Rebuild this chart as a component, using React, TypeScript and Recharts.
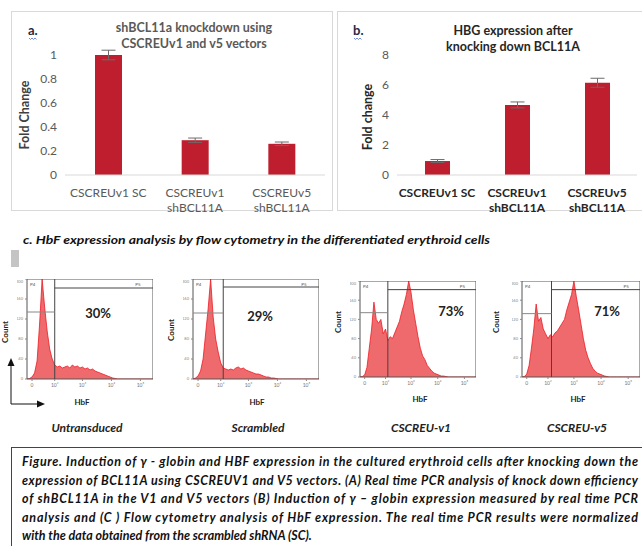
import React from 'react';
import {
  BarChart, Bar, XAxis, YAxis, ErrorBar, AreaChart, Area,
  ReferenceLine, ReferenceArea,
} from 'recharts';

// ---------- Panel a / b data ----------
const categories = ['CSCREUv1 SC', 'CSCREUv1\nshBCL11A', 'CSCREUv5\nshBCL11A'];
const knockdownValues = [1.0, 0.29, 0.26];
const knockdownErrors = [0.04, 0.018, 0.015];
const knockdownTicks = [0, 0.2, 0.4, 0.6, 0.8, 1];
const hbgValues = [0.93, 4.67, 6.15];
const hbgErrors = [0.1, 0.2, 0.3];
const hbgTicks = [0, 2, 4, 6, 8];

// ---------- Panel c (flow cytometry histograms), counts as % of frame, bins every 2 units ----------
const untransduced = [0, 0.5, 2, 6, 18, 55, 100, 72, 48, 30, 20, 14, 12, 13, 11, 12, 13, 11, 14, 12, 13, 11, 12, 10, 11, 9, 10, 8, 7, 6, 5, 4, 3, 2, 1, 0.5, 0, 0, 0, 0, 0, 0, 0, 0, 0, 0, 0, 0, 0, 0, 0];
const scrambled = [0, 1, 3, 8, 20, 45, 70, 100, 62, 40, 27, 16, 11, 10, 9, 10, 9, 11, 12, 10, 11, 9, 8, 7, 6, 5, 5, 4, 3, 2, 2, 1, 1, 0.5, 0, 0, 0, 0, 0, 0, 0, 0, 0, 0, 0, 0, 0, 0, 0, 0, 0];
const cscreuV1 = [0, 0.5, 2, 10, 30, 50, 78, 60, 56, 60, 45, 50, 38, 42, 40, 46, 52, 58, 68, 76, 86, 100, 88, 70, 56, 42, 30, 22, 18, 12, 9, 6, 4, 3, 2, 1, 1, 0.5, 0, 0, 0, 0, 0, 0, 0, 0, 0, 0, 0, 0, 0];
const cscreuV5 = [0, 0.5, 3, 12, 30, 50, 76, 58, 62, 50, 45, 40, 44, 42, 46, 48, 52, 56, 60, 70, 78, 86, 100, 84, 70, 55, 40, 28, 20, 14, 9, 6, 4, 3, 2, 1, 0.5, 0, 0, 0, 0, 0, 0, 0, 0, 0, 0, 0, 0, 0, 0];
const histXTicks = [4, 22, 44, 67, 90];
const histXTickLabels = ['0', '10²', '10³', '10⁴', '10⁵'];
const histYTicks = [0, 20, 40, 60, 80, 100];
const histYTickLabels = ['0', '40', '80', '120', '160', '200'];

const captionLines = [
  'Figure. Induction of γ - globin and HBF expression in the cultured erythroid cells after knocking down the',
  'expression of BCL11A using CSCREUV1 and V5 vectors. (A) Real time PCR analysis of knock down efficiency',
  'of shBCL11A in the V1 and V5 vectors (B) Induction of γ – globin expression measured by real time PCR',
  'analysis and (C ) Flow cytometry analysis of HbF expression. The real time PCR results were normalized',
  'with the data obtained from the scrambled shRNA (SC).',
];

const FONT = 'Lato, "Open Sans", sans-serif';
const BAR_RED = '#BE1E2D';

const knockdownData = categories.map((c, i) => ({ name: c, v: knockdownValues[i], e: knockdownErrors[i] }));
const hbgData = categories.map((c, i) => ({ name: c, v: hbgValues[i], e: hbgErrors[i] }));

const MultiTick = (props: any) => {
  const { x, y, payload, fill, weight } = props;
  const lines = String(payload.value).split('\n');
  return (
    <text x={x} y={y} textAnchor="middle" fill={fill} fontSize={12} fontWeight={weight} fontFamily={FONT}>
      {lines.map((l: string, i: number) => (
        <tspan key={i} x={x} dy={i === 0 ? 14 : 15}>{l}</tspan>
      ))}
    </text>
  );
};

type HistProps = {
  left: number; top: number; w: number; h: number; values: number[];
  gate: number; p4: number; p5: number;
};

const Histogram = ({ left, top, w, h, values, gate, p4, p5 }: HistProps) => {
  const data = values.map((v, i) => ({ x: i * 2, c: v }));
  return (
    <div style={{ position: 'absolute', left: left - 10, top }}>
      <AreaChart width={w + 10} height={h + 9} data={data} margin={{ top: 0, right: 0, bottom: 0, left: 0 }}>
        <XAxis type="number" dataKey="x" domain={[0, 100]} ticks={histXTicks} allowDataOverflow
          tickFormatter={(v: number) => histXTickLabels[histXTicks.indexOf(v)] ?? ''}
          height={9} tick={{ fontSize: 5, fill: '#777' }} tickLine={{ stroke: '#888' }} tickSize={2} axisLine={false} />
        <YAxis type="number" domain={[0, 100]} ticks={histYTicks} allowDataOverflow width={10}
          tickFormatter={(v: number) => histYTickLabels[histYTicks.indexOf(v)] ?? ''}
          tick={{ fontSize: 4, fill: '#888' }} tickLine={{ stroke: '#888' }} tickSize={2} axisLine={false} />
        <Area type="linear" dataKey="c" stroke="#EC1C24" strokeWidth={0.8} fill="#EE6A6C" fillOpacity={1}
          isAnimationActive={false} dot={false} activeDot={false} />
        <ReferenceArea x1={0} x2={100} y1={0} y2={100} fill="none" stroke="#555" strokeWidth={1} ifOverflow="visible" />
        <ReferenceLine x={gate} stroke="#444" strokeWidth={1} />
        <ReferenceLine segment={[{ x: 0, y: p4 }, { x: gate, y: p4 }]} stroke="#888" strokeWidth={1} />
        <ReferenceLine segment={[{ x: gate, y: p5 }, { x: 100, y: p5 }]} stroke="#444" strokeWidth={1} />
      </AreaChart>
    </div>
  );
};

export default function App() {
  return (
    <div style={{ position: 'absolute', left: 0, top: 0, width: 642, height: 546, background: '#fff', overflow: 'hidden', fontFamily: FONT }}>
      {/* Panel a box */}
      <div style={{ position: 'absolute', left: 11, top: 11, width: 320, height: 198, border: '1px solid #d9d9d9' }} />
      <div style={{ position: 'absolute', left: 11, top: 11 }}>
        <BarChart width={321} height={215} data={knockdownData} margin={{ top: 20, right: 7, bottom: 21, left: 20 }}>
          <XAxis dataKey="name" interval={0} height={30} axisLine={{ stroke: '#d9d9d9' }} tickLine={false}
            tick={<MultiTick fill="#595959" weight={400} />} />
          <YAxis domain={[0, 1.2]} ticks={knockdownTicks} width={34} axisLine={false} tickLine={false}
            tick={{ fontSize: 12, fill: '#595959', fontFamily: FONT }} tickFormatter={(v: number) => String(v)} />
          <Bar dataKey="v" fill={BAR_RED} barSize={27} isAnimationActive={false}>
            <ErrorBar dataKey="e" stroke="#6b6b6b" width={7} strokeWidth={1} direction="y" />
          </Bar>
        </BarChart>
      </div>

      {/* Panel b box */}
      <div style={{ position: 'absolute', left: 337, top: 11, width: 320, height: 198, border: '1px solid #d9d9d9' }} />
      <div style={{ position: 'absolute', left: 337, top: 11 }}>
        <BarChart width={310} height={215} data={hbgData} margin={{ top: 44, right: 10, bottom: 21, left: 26 }}>
          <XAxis dataKey="name" interval={0} height={30} axisLine={{ stroke: '#d9d9d9' }} tickLine={false}
            tick={<MultiTick fill="#262626" weight={700} />} />
          <YAxis domain={[0, 8]} ticks={hbgTicks} width={34} axisLine={false} tickLine={false}
            tick={{ fontSize: 12, fill: '#595959', fontFamily: FONT }} />
          <Bar dataKey="v" fill={BAR_RED} barSize={25} isAnimationActive={false}>
            <ErrorBar dataKey="e" stroke="#6b6b6b" width={7} strokeWidth={1} direction="y" />
          </Bar>
        </BarChart>
      </div>

      {/* Histograms */}
      <Histogram left={27} top={279} w={126} h={100} values={untransduced} gate={22} p4={67} p5={91} />
      <Histogram left={193} top={279} w={126} h={100} values={scrambled} gate={24} p4={66} p5={92} />
      <Histogram left={360} top={281} w={116} h={96} values={cscreuV1} gate={24} p4={67} p5={91} />
      <Histogram left={522} top={281} w={118} h={96} values={cscreuV5} gate={25} p4={66} p5={91} />

      {/* Caption box */}
      <div style={{ position: 'absolute', left: 11, top: 447, width: 640, height: 120, border: '1.5px solid #444' }} />

      {/* Text overlay */}
      <svg width={642} height={546} style={{ position: 'absolute', left: 0, top: 0, pointerEvents: 'none' }} fontFamily={FONT}>
        {/* panel a text */}
        <text x={28} y={35} fontSize={13} fontWeight={700} fill="#1f2a44">a.</text>
        <path d="M29 38 l1.5 1.5 l1.5 -1.5 l1.5 1.5 l1.5 -1.5 l1.5 1.5" stroke="#4a6fd0" strokeWidth={0.8} fill="none" />
        <text x={194} y={32} textAnchor="middle" fontSize={12.5} fontWeight={700} fill="#595959">shBCL11a knockdown using</text>
        <text x={194} y={48} textAnchor="middle" fontSize={12.5} fontWeight={700} fill="#595959">CSCREUv1 and v5  vectors</text>
        <text transform="translate(29,115) rotate(-90)" textAnchor="middle" fontSize={12.5} fontWeight={700} fill="#404040">Fold Change</text>

        {/* panel b text */}
        <text x={353} y={35} fontSize={13} fontWeight={700} fill="#1f2a44">b.</text>
        <path d="M354 38 l1.5 1.5 l1.5 -1.5 l1.5 1.5 l1.5 -1.5 l1.5 1.5" stroke="#4a6fd0" strokeWidth={0.8} fill="none" />
        <text x={513} y={35} textAnchor="middle" fontSize={12.5} fontWeight={700} fill="#262626">HBG expression after</text>
        <text x={513} y={51} textAnchor="middle" fontSize={12.5} fontWeight={700} fill="#262626">knocking down BCL11A</text>
        <text transform="translate(372,117) rotate(-90)" textAnchor="middle" fontSize={12.5} fontWeight={700} fill="#262626">Fold change</text>

        {/* panel c heading */}
        <text x={23} y={244} fontSize={12} fontWeight={700} fontStyle="italic" fill="#111" textLength={467} lengthAdjust="spacingAndGlyphs">c. HbF expression analysis by flow cytometry in the differentiated erythroid cells</text>
        <rect x={11} y={250} width={8} height={17} fill="#c4c4c4" />

        {/* histogram labels */}
        {[
          { px: 27, g: 22, w: 126, top: 279 }, { px: 193, g: 24, w: 126, top: 279 },
          { px: 360, g: 24, w: 116, top: 281 }, { px: 522, g: 25, w: 118, top: 281 },
        ].map((f, i) => (
          <g key={i}>
            <text x={f.px + 3} y={f.top + 7} fontSize={4.5} fill="#555">P4</text>
            <text x={f.px + f.w * 0.86} y={f.top + 7} fontSize={4.5} fill="#555">P5</text>
          </g>
        ))}
        <text x={98} y={318} textAnchor="middle" fontSize={13} fontWeight={700} fill="#222">30%</text>
        <text x={260} y={321} textAnchor="middle" fontSize={13} fontWeight={700} fill="#222">29%</text>
        <text x={451} y={316} textAnchor="middle" fontSize={13} fontWeight={700} fill="#222">73%</text>
        <text x={607} y={316} textAnchor="middle" fontSize={13} fontWeight={700} fill="#222">71%</text>

        {[{ x: 5, y: 332 }, { x: 171, y: 330 }, { x: 338, y: 322 }, { x: 496, y: 322 }].map((c, i) => (
          <text key={i} transform={`translate(${c.x + 3},${c.y}) rotate(-90)`} textAnchor="middle" fontSize={8} fontWeight={700} fill="#222">Count</text>
        ))}
        {[{ x: 82, y: 405 }, { x: 257, y: 405 }, { x: 420, y: 402 }, { x: 578, y: 402 }].map((c, i) => (
          <text key={i} x={c.x} y={c.y} textAnchor="middle" fontSize={8} fontWeight={700} fill="#222">HbF</text>
        ))}

        {/* axis arrows */}
        <line x1={11} y1={404} x2={11} y2={364} stroke="#111" strokeWidth={1} />
        <path d="M11 358 L7.5 366 L14.5 366 Z" fill="#111" />
        <line x1={11} y1={404} x2={38} y2={404} stroke="#111" strokeWidth={1} />
        <path d="M45 404 L37 400.5 L37 407.5 Z" fill="#111" />

        <text x={87} y={432} textAnchor="middle" fontSize={12} fontStyle="italic" fontWeight={700} fill="#222">Untransduced</text>
        <text x={258} y={432} textAnchor="middle" fontSize={12} fontStyle="italic" fontWeight={700} fill="#222">Scrambled</text>
        <text x={421} y={432} textAnchor="middle" fontSize={12} fontStyle="italic" fontWeight={700} fill="#222">CSCREU-v1</text>
        <text x={577} y={432} textAnchor="middle" fontSize={12} fontStyle="italic" fontWeight={700} fill="#222">CSCREU-v5</text>

        {/* caption */}
        {captionLines.map((l, i) => (
          <text key={i} x={22} y={466 + i * 18.6} fontSize={12.5} fontStyle="italic" fontWeight={700} fill="#111"
            {...(i < 4 ? { textLength: 616, lengthAdjust: 'spacing' } : {})}>{l}</text>
        ))}
      </svg>
    </div>
  );
}
